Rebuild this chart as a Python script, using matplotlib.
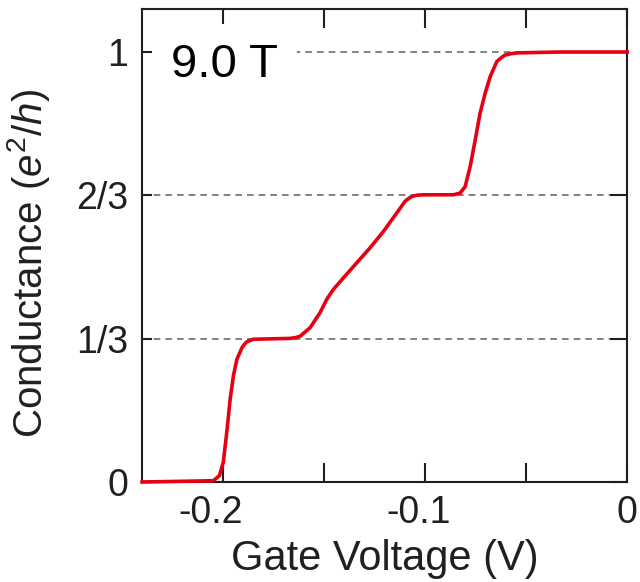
import matplotlib
matplotlib.use("Agg")
import matplotlib.pyplot as plt
import matplotlib.transforms as mtransforms

plt.rcParams['font.family'] = ['Liberation Sans', 'DejaVu Sans']
plt.rcParams['mathtext.fontset'] = 'custom'
plt.rcParams['mathtext.rm'] = 'Liberation Sans'
plt.rcParams['mathtext.it'] = 'Liberation Sans:italic'

# gate voltage (V) and conductance (e^2/h)
gate_v = [-0.2401, -0.2048, -0.2018, -0.1999, -0.1982, -0.1965, -0.1949,
          -0.1932, -0.1907, -0.1895, -0.1883, -0.1850, -0.1668, -0.1640,
          -0.1619, -0.1569, -0.1520, -0.1487, -0.1454, -0.1404, -0.1338,
          -0.1272, -0.1206, -0.1140, -0.1099, -0.1080, -0.1066, -0.1040,
          -0.1008, -0.0860, -0.0827, -0.0802, -0.0777, -0.0752, -0.0728,
          -0.0703, -0.0678, -0.0645, -0.0620, -0.0604, -0.0575, -0.0546,
          -0.0332, 0.0]
cond = [0.0, 0.003, 0.015, 0.046, 0.115, 0.193, 0.247,
        0.285, 0.312, 0.320, 0.326, 0.332, 0.334, 0.336,
        0.339, 0.359, 0.394, 0.425, 0.448, 0.475, 0.510,
        0.545, 0.583, 0.626, 0.653, 0.660, 0.664, 0.667,
        0.668, 0.668, 0.672, 0.687, 0.734, 0.796, 0.858,
        0.904, 0.943, 0.978, 0.988, 0.993, 0.996, 0.998,
        1.0, 1.0]

levels = [1/3, 2/3, 1]
ytick_vals = [0, 1/3, 2/3, 1]
ytick_labels = ["0", "1/3", "2/3", "1"]
xtick_vals = [-0.2, -0.15, -0.1, -0.05, 0]
xtick_labels = ["-0.2", "", "-0.1", "", "0"]
field = "9.0 T"

dark = '#231f20'

fig = plt.figure(figsize=(6.4, 5.82), dpi=100)
ax = fig.add_axes([0.222, 0.1718, 0.758, 0.8127])  # x,y, lenght, height

# dashed guide lines
for lv in levels:
    ax.axhline(lv, color='#6d6d6d', lw=1.2, ls=(0, (4, 3)), zorder=1)

ax.plot(gate_v, cond, color='#e60012', lw=2.6, zorder=4, clip_on=False,
        solid_joinstyle='round')

ax.set_xlim(-0.2401, 0)
ax.set_ylim(0, 1.1)

ax.set_xticks(xtick_vals)
ax.set_xticklabels(xtick_labels)
ax.set_yticks(ytick_vals)
ax.set_yticklabels(ytick_labels)

ax.tick_params(axis='x', direction='in', top=True, length=14, width=1.5,
               color=dark, labelsize=27, pad=9, labelcolor=dark)
ax.tick_params(axis='y', direction='in', right=True, length=12, width=1.5,
               color=dark, labelsize=27, pad=10, labelcolor=dark)
# left ticks shorter than right ones
for t in ax.yaxis.get_major_ticks():
    t.tick1line.set_markersize(7.5)
    t.tick2line.set_markersize(12.5)

# x labels sit a bit left of their ticks
shifts = [-12, 0, -7, 0, 0]
for lab, dx in zip(ax.get_xticklabels(), shifts):
    lab.set_transform(lab.get_transform() +
                      mtransforms.ScaledTranslation(dx / 100, 0, fig.dpi_scale_trans))

for sp in ax.spines.values():
    sp.set_color(dark)
    sp.set_linewidth(1.5)

ax.set_xlabel("Gate Voltage (V)", fontsize=30, color=dark, labelpad=6)
ax.set_ylabel("Conductance ($e^{2}/h$)", fontsize=29, color=dark)
ax.yaxis.set_label_coords(-0.186, 0.462)

ax.text(0.06, 0.856, field, transform=ax.transAxes, fontsize=34, color='k',
        ha='left', va='baseline', zorder=3,
        bbox=dict(boxstyle='square,pad=0.4', fc='w', ec='none'))

fig.savefig("out.png", dpi=100)
